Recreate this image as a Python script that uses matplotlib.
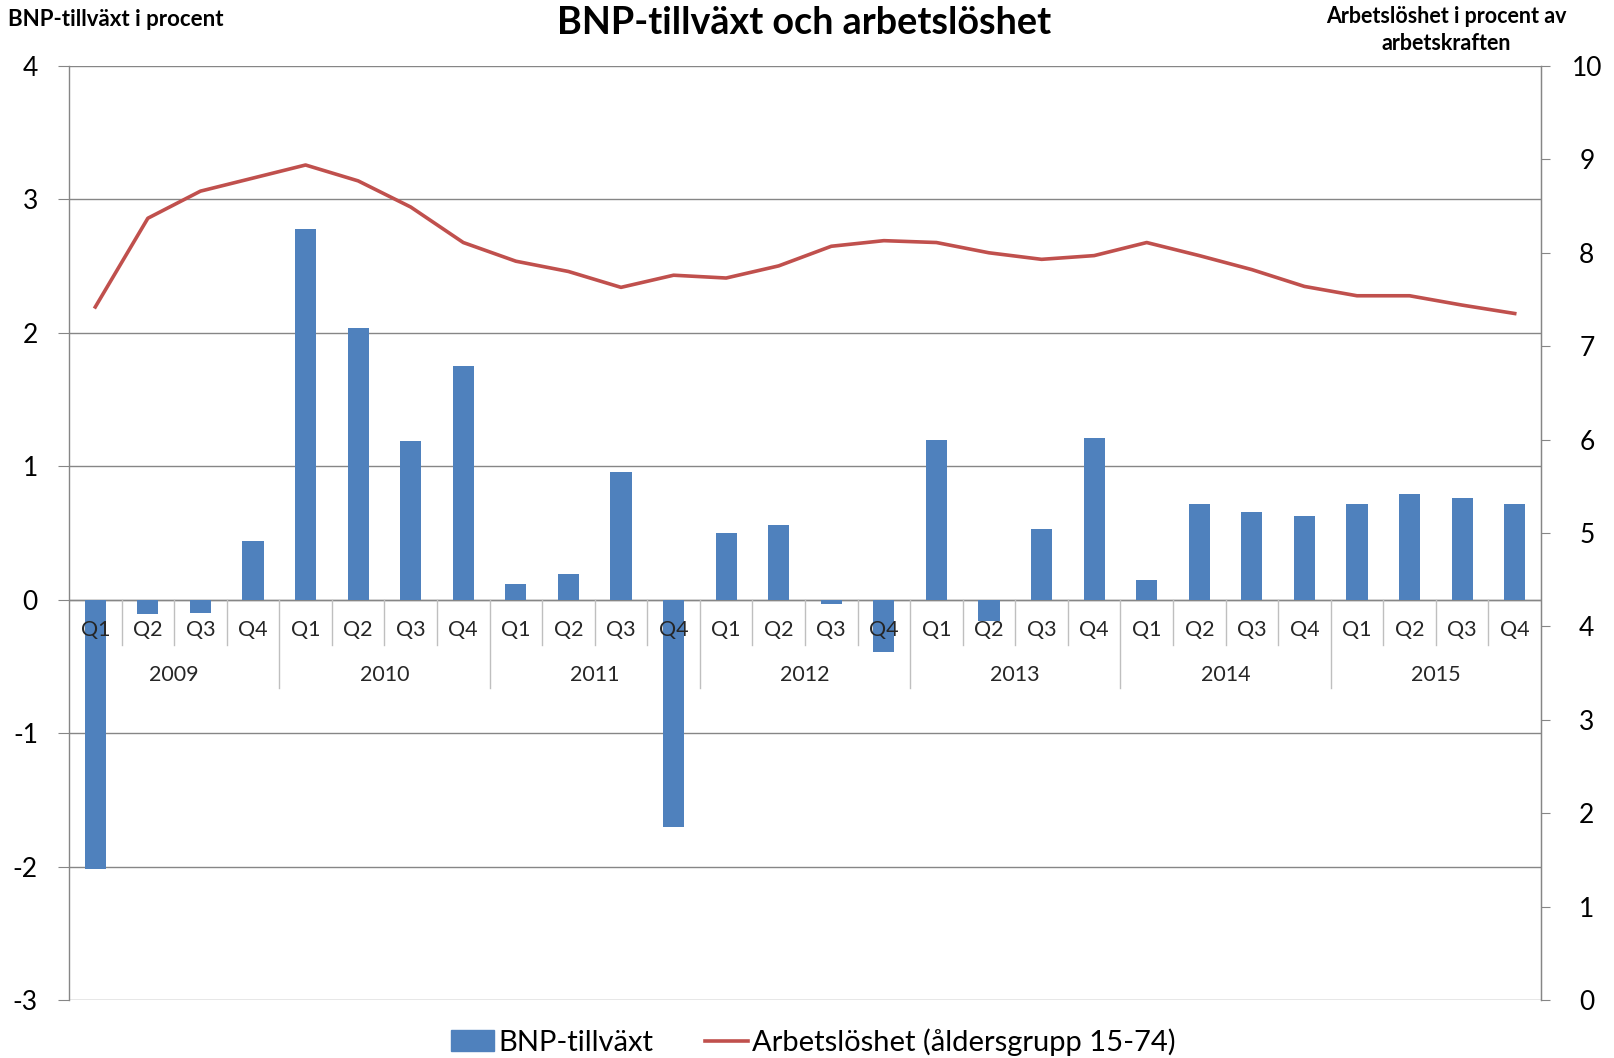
import matplotlib
matplotlib.use("Agg")
import matplotlib.pyplot as plt
from matplotlib.patches import Patch
from matplotlib.lines import Line2D

plt.rcParams['font.family'] = ['Lato', 'DejaVu Sans']

years = ["2009", "2010", "2011", "2012", "2013", "2014", "2015"]
quarters = ["Q1", "Q2", "Q3", "Q4"]
bnp = [-2.02, -0.11, -0.10, 0.44,
       2.78, 2.04, 1.19, 1.75,
       0.12, 0.19, 0.96, -1.70,
       0.50, 0.56, -0.03, -0.39,
       1.20, -0.16, 0.53, 1.21,
       0.15, 0.72, 0.66, 0.63,
       0.72, 0.79, 0.76, 0.72]
arbl = [7.42, 8.37, 8.66, 8.80,
        8.94, 8.77, 8.49, 8.11,
        7.91, 7.80, 7.63, 7.76,
        7.73, 7.86, 8.07, 8.13,
        8.11, 8.00, 7.93, 7.97,
        8.11, 7.97, 7.82, 7.64,
        7.54, 7.54, 7.44, 7.35]
left_ticks = [-3, -2, -1, 0, 1, 2, 3, 4]
right_ticks = [0, 1, 2, 3, 4, 5, 6, 7, 8, 9, 10]

BLUE = "#4F81BD"
RED = "#C0504D"
GRID = "#868686"

fig = plt.figure(figsize=(16.14, 10.58), dpi=100)
ax = fig.add_axes([69/1614, 1-1000/1058, (1541-69)/1614, (1000-66)/1058])
n = len(bnp)
x = list(range(n))

ax.bar(x, bnp, width=0.4, color=BLUE, zorder=2)
ax.set_xlim(-0.5, n - 0.5)
ax.set_ylim(-3, 4)
ax.set_yticks(left_ticks)
ax.set_yticklabels([str(t) for t in left_ticks], fontsize=19)
ax.yaxis.grid(True, color=GRID, linewidth=1.0, zorder=0)
ax.set_axisbelow(True)
ax.set_xticks([])
ax.tick_params(axis='y', length=8, color=GRID, pad=14.4)
for s in ['top', 'bottom']:
    ax.spines[s].set_visible(False)
for s in ['left', 'right']:
    ax.spines[s].set_color(GRID)
    ax.spines[s].set_linewidth(1.0)

ax.axhline(0, color=GRID, linewidth=1.0, zorder=1)

# multi-level category labels
upp = 1 / 133.4  # data units per pixel on left axis
q_y = -30 * upp
y_y = -75 * upp
for i in range(n):
    ax.text(i, q_y, quarters[i % 4], ha='center', va='center', fontsize=15.5,
            color='#262626', zorder=5)
for k, yr in enumerate(years):
    ax.text(4 * k + 1.5, y_y, yr, ha='center', va='center', fontsize=15.5,
            color='#262626', zorder=5)
for i in range(1, n):
    b = i - 0.5
    if i % 4 == 0:
        ax.plot([b, b], [0, -88 * upp], color="#BFBFBF", linewidth=1.0, zorder=1)
    else:
        ax.plot([b, b], [0, -45 * upp], color="#BFBFBF", linewidth=1.0, zorder=1)

ax2 = ax.twinx()
ax2.plot(x, arbl, color=RED, linewidth=2.6, zorder=3)
ax2.set_ylim(0, 10)
ax2.set_yticks(right_ticks)
ax2.set_yticklabels([str(t) for t in right_ticks], fontsize=19)
ax2.tick_params(axis='y', length=6.5, color=GRID, pad=26.5)
for lab in ax2.get_yticklabels():
    lab.set_horizontalalignment('center')
for s in ['top', 'bottom', 'left']:
    ax2.spines[s].set_visible(False)
ax2.spines['right'].set_color(GRID)

fig.text(804.5/1614, 1 - 23/1058, "BNP-tillväxt och arbetslöshet", ha='center', va='center',
         fontsize=27.2, fontweight='bold')
fig.text(8/1614, 1 - 20/1058, "BNP-tillväxt i procent", ha='left', va='center',
         fontsize=16, fontweight='bold')
fig.text(1446/1614, 1 - 30/1058, "Arbetslöshet i procent av\narbetskraften", ha='center',
         va='center', fontsize=15.5, fontweight='bold', linespacing=1.38)

handles = [Patch(facecolor=BLUE, edgecolor=BLUE),
           Line2D([0], [0], color=RED, linewidth=2.6)]
fig.legend(handles, ["BNP-tillväxt", "Arbetslöshet (åldersgrupp 15-74)"],
           loc='center', bbox_to_anchor=(0.504, 1 - 1042/1058), ncol=2,
           frameon=False, fontsize=21, handlelength=1.45, handletextpad=0.15,
           columnspacing=1.8)

fig.savefig("out.png", dpi=100)
